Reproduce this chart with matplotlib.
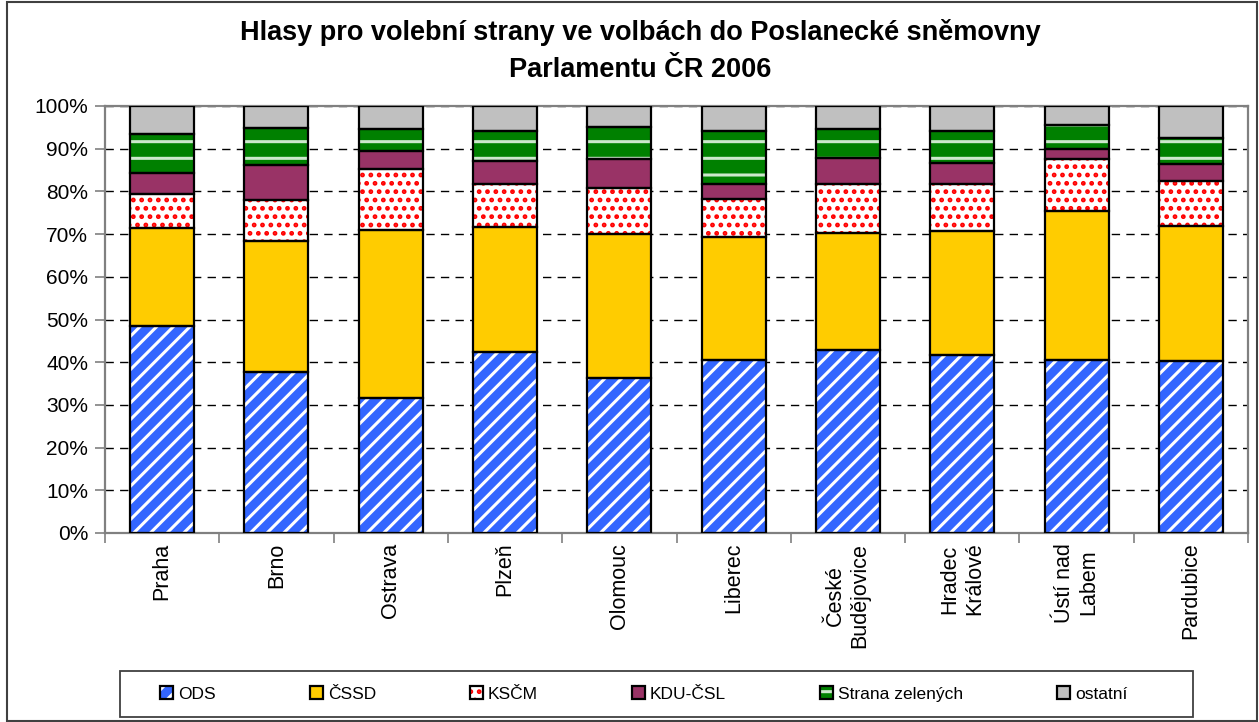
import matplotlib
matplotlib.use("Agg")
import matplotlib.pyplot as plt
import matplotlib.patches as mpatches
from matplotlib.legend_handler import HandlerTuple
import numpy as np

plt.rcParams['font.family'] = ['Liberation Sans', 'DejaVu Sans']
plt.rcParams['hatch.linewidth'] = 2.2

cities = ["Praha", "Brno", "Ostrava", "Plzeň", "Olomouc", "Liberec",
          "České\nBudějovice", "Hradec\nKrálové", "Ústí nad\nLabem", "Pardubice"]
parties = ["ODS", "ČSSD", "KSČM", "KDU-ČSL", "Strana zelených", "ostatní"]

ods     = [48.4, 37.6, 31.5, 42.3, 36.2, 40.4, 42.8, 41.6, 40.4, 40.2]
cssd    = [23.1, 30.9, 39.5, 29.4, 33.9, 29.0, 27.5, 29.2, 35.1, 31.8]
kscm    = [7.9, 9.5, 14.3, 10.1, 10.7, 8.9, 11.5, 11.0, 12.1, 10.5]
kducsl  = [4.9, 8.2, 4.2, 5.3, 6.8, 3.5, 6.1, 4.9, 2.4, 3.9]
zeleni  = [9.2, 8.7, 5.1, 7.1, 7.5, 12.4, 6.7, 7.5, 5.6, 6.1]
ostatni = [6.5, 5.1, 5.4, 5.8, 4.9, 5.8, 5.4, 5.8, 4.4, 7.5]

series = [ods, cssd, kscm, kducsl, zeleni, ostatni]
faces = ['#3366FF', '#FFCC00', '#FFFFFF', '#993366', '#008000', '#C0C0C0']
hatch_colors = ['#FFFFFF', '#FFCC00', '#FF0000', '#993366', '#CDE8CD', '#C0C0C0']
hatches = ['//', None, '..', None, '-', None]

W, H = 1259, 722
fig = plt.figure(figsize=(W / 100, H / 100), dpi=100)
ax = fig.add_axes([105 / W, 1 - 533 / H, (1248 - 105) / W, (533 - 106) / H])

x = np.arange(len(cities))
width = 0.56
bottom = np.zeros(len(cities))
handles = []
for vals, fc, hc, h, name in zip(series, faces, hatch_colors, hatches, parties):
    vals = np.array(vals)
    ax.bar(x, vals, width, bottom=bottom, color=fc, edgecolor=hc, linewidth=0,
           hatch=h, zorder=2)
    ax.bar(x, vals, width, bottom=bottom, fill=False, edgecolor='black',
           linewidth=1.6, zorder=3)
    bottom += vals
    p1 = mpatches.Patch(facecolor=fc, edgecolor=hc, hatch=h, linewidth=0)
    p2 = mpatches.Patch(fill=False, edgecolor='black', linewidth=1.6)
    handles.append((p1, p2))

ax.set_xlim(-0.5, len(cities) - 0.5)
ax.set_ylim(0, 100)
ax.set_yticks(np.arange(0, 101, 10))
ax.set_yticklabels([f"{v}%" for v in range(0, 101, 10)], fontsize=15)
ax.set_xticks(x)
ax.set_xticklabels(cities, rotation=90, fontsize=15.5, va='top', ha='center',
                   multialignment='center')
ax.set_xticks(np.arange(-0.5, len(cities), 1), minor=True)
ax.tick_params(axis='x', which='major', length=0, pad=7)
ax.tick_params(axis='x', which='minor', length=7, color='#808080', width=1.2)
ax.tick_params(axis='y', length=7, color='#808080', width=1.2, pad=5)

for s in ax.spines.values():
    s.set_color('#808080')
    s.set_linewidth(1.6)

ax.set_axisbelow(True)
ax.yaxis.grid(True, color='black', linestyle=(0, (6, 4.5)), linewidth=1.0)

fig.text(640 / W, 1 - 33 / H, "Hlasy pro volební strany ve volbách do Poslanecké sněmovny",
         ha='center', va='center', fontsize=19.5, fontweight='bold')
fig.text(640 / W, 1 - 70 / H, "Parlamentu ČR 2006",
         ha='center', va='center', fontsize=19.5, fontweight='bold')

# legend frame
fig.patches.append(mpatches.Rectangle((120 / W, 1 - 717 / H), (1193 - 120) / W, (717 - 671) / H,
                                      transform=fig.transFigure, fill=False,
                                      edgecolor='#404040', linewidth=1.3))
leg = fig.legend(handles, parties, handler_map={tuple: HandlerTuple(ndivide=1)},
                 loc='center left', bbox_to_anchor=(160 / W, 1 - 694 / H), ncol=6,
                 frameon=False, fontsize=12.5, handlelength=0.75, handleheight=0.75,
                 handletextpad=0.3, columnspacing=5.4, borderpad=0, borderaxespad=0)

# figure border
fig.patches.append(mpatches.Rectangle((7 / W, 1 / H), (W - 9) / W, (H - 3) / H,
                                      transform=fig.transFigure, fill=False,
                                      edgecolor='#404040', linewidth=1.5))

fig.savefig("out.png", dpi=100)
